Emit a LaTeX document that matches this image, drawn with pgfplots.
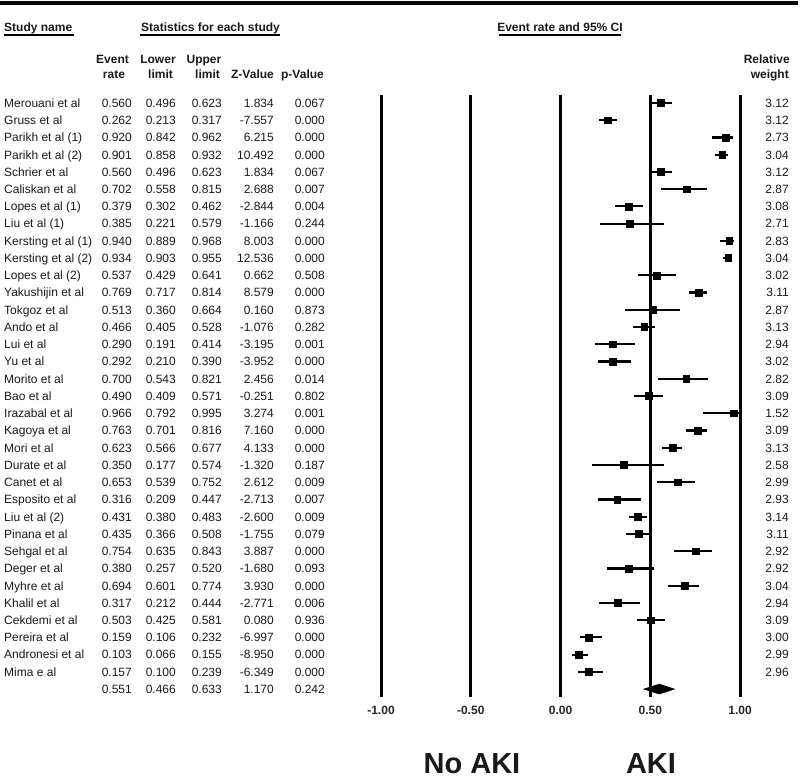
\documentclass[border=0pt]{standalone}
\usepackage{pgfplots}
\usepackage{pgfplotstable}
\pgfplotsset{compat=1.18}
\usepackage{fontspec}
\setmainfont{Liberation Sans}

\pgfplotstableread[col sep=comma]{
name,er,lo,hi,z,p,w
Merouani et al,0.560,0.496,0.623,1.834,0.067,3.12
Gruss et al,0.262,0.213,0.317,-7.557,0.000,3.12
Parikh et al (1),0.920,0.842,0.962,6.215,0.000,2.73
Parikh et al (2),0.901,0.858,0.932,10.492,0.000,3.04
Schrier et al,0.560,0.496,0.623,1.834,0.067,3.12
Caliskan et al,0.702,0.558,0.815,2.688,0.007,2.87
Lopes et al (1),0.379,0.302,0.462,-2.844,0.004,3.08
Liu et al (1),0.385,0.221,0.579,-1.166,0.244,2.71
Kersting et al (1),0.940,0.889,0.968,8.003,0.000,2.83
Kersting et al (2),0.934,0.903,0.955,12.536,0.000,3.04
Lopes et al (2),0.537,0.429,0.641,0.662,0.508,3.02
Yakushijin et al,0.769,0.717,0.814,8.579,0.000,3.11
Tokgoz et al,0.513,0.360,0.664,0.160,0.873,2.87
Ando et al,0.466,0.405,0.528,-1.076,0.282,3.13
Lui et al,0.290,0.191,0.414,-3.195,0.001,2.94
Yu et al,0.292,0.210,0.390,-3.952,0.000,3.02
Morito et al,0.700,0.543,0.821,2.456,0.014,2.82
Bao et al,0.490,0.409,0.571,-0.251,0.802,3.09
Irazabal et al,0.966,0.792,0.995,3.274,0.001,1.52
Kagoya et al,0.763,0.701,0.816,7.160,0.000,3.09
Mori et al,0.623,0.566,0.677,4.133,0.000,3.13
Durate et al,0.350,0.177,0.574,-1.320,0.187,2.58
Canet et al,0.653,0.539,0.752,2.612,0.009,2.99
Esposito et al,0.316,0.209,0.447,-2.713,0.007,2.93
Liu et al (2),0.431,0.380,0.483,-2.600,0.009,3.14
Pinana et al,0.435,0.366,0.508,-1.755,0.079,3.11
Sehgal et al,0.754,0.635,0.843,3.887,0.000,2.92
Deger et al,0.380,0.257,0.520,-1.680,0.093,2.92
Myhre et al,0.694,0.601,0.774,3.930,0.000,3.04
Khalil et al,0.317,0.212,0.444,-2.771,0.006,2.94
Cekdemi et al,0.503,0.425,0.581,0.080,0.936,3.09
Pereira et al,0.159,0.106,0.232,-6.997,0.000,3.00
Andronesi et al,0.103,0.066,0.155,-8.950,0.000,2.99
Mima e al,0.157,0.100,0.239,-6.349,0.000,2.96
}\studies

\pgfplotstableread{
er lo hi z p
0.551 0.466 0.633 1.170 0.242
}\summary

\begin{document}
\begin{tikzpicture}
\fontsize{12}{14}\selectfont
\path[use as bounding box] (0,0) rectangle (800pt,-779pt);

\begin{axis}[
  at={(381pt,-95pt)}, anchor=north west,
  scale only axis, width=359pt, height=602pt,
  xmin=-1, xmax=1, ymin=0.54, ymax=35.46, y dir=reverse,
  axis line style={draw=none},
  xtick={-1,-0.5,0,0.5,1},
  xticklabels={{-1.00},{-0.50},{0.00},{0.50},{1.00}},
  xticklabel style={font=\bfseries\fontsize{12}{14}\selectfont, yshift=-5pt, text=black!85},
  ytick=\empty, major tick length=0pt,
  xmajorgrids, grid style={black, line width=3pt},
  clip=false,
]
\addplot[only marks, mark=square*, mark size=3.4pt, black,
  error bars/.cd, x dir=both, x explicit, error mark=none,
  error bar style={line width=2.2pt, black}]
  table[x=er, y expr=\coordindex+1,
        x error minus expr=\thisrow{er}-\thisrow{lo},
        x error plus expr=\thisrow{hi}-\thisrow{er}] {\studies};
\addplot[fill=black, draw=black, line width=0.8pt]
  table[x=lo, y expr=35] {\summary} -- (axis cs:0.551,34.72) -- (axis cs:0.633,35) -- (axis cs:0.551,35.28) -- cycle;
\end{axis}

\begin{scope}[x=1pt, y=-1pt, text=black!90]
\draw[line width=4pt] (0,3) -- (798,3);
% headers
\node[anchor=base west, inner sep=0, font=\bfseries] at (4,31.5) {Study name};
\draw[line width=1.2pt] (4,35) -- (74,35);
\node[anchor=base, inner sep=0, font=\bfseries] at (210.5,31.5) {Statistics for each study};
\draw[line width=1.2pt] (140,35) -- (280,35);
\node[anchor=base, inner sep=0, font=\bfseries] at (560,31.5) {Event rate and 95\% CI};
\draw[line width=1.2pt] (499,35) -- (621,35);

\node[anchor=base, inner sep=0, font=\bfseries] at (112.5,63) {Event};
\node[anchor=base, inner sep=0, font=\bfseries] at (114,78.5) {rate};
\node[anchor=base, inner sep=0, font=\bfseries] at (158,63) {Lower};
\node[anchor=base, inner sep=0, font=\bfseries] at (160.5,78.5) {limit};
\node[anchor=base, inner sep=0, font=\bfseries] at (204,63) {Upper};
\node[anchor=base, inner sep=0, font=\bfseries] at (207.5,78.5) {limit};
\node[anchor=base, inner sep=0, font=\bfseries] at (252.5,78.5) {Z-Value};
\node[anchor=base, inner sep=0, font=\bfseries] at (302.5,78.5) {p-Value};
\node[anchor=base east, inner sep=0, font=\bfseries] at (790,63) {Relative};
\node[anchor=base east, inner sep=0, font=\bfseries] at (789,78.5) {weight};

% table rows
\foreach \i in {0,...,33} {
  \pgfmathsetmacro\yy{103+\i*17.24+4.3}
  \pgfplotstablegetelem{\i}{name}\of\studies \edef\cname{\pgfplotsretval}
  \node[anchor=base west, inner sep=0] at (4,\yy) {\cname};
  \pgfplotstablegetelem{\i}{er}\of\studies \edef\cer{\pgfplotsretval}
  \node[anchor=base east, inner sep=0] at (132,\yy) {\cer};
  \pgfplotstablegetelem{\i}{lo}\of\studies \edef\clo{\pgfplotsretval}
  \node[anchor=base east, inner sep=0] at (176,\yy) {\clo};
  \pgfplotstablegetelem{\i}{hi}\of\studies \edef\chi{\pgfplotsretval}
  \node[anchor=base east, inner sep=0] at (222,\yy) {\chi};
  \pgfplotstablegetelem{\i}{z}\of\studies \edef\cz{\pgfplotsretval}
  \node[anchor=base east, inner sep=0] at (274,\yy) {\cz};
  \pgfplotstablegetelem{\i}{p}\of\studies \edef\cp{\pgfplotsretval}
  \node[anchor=base east, inner sep=0] at (325,\yy) {\cp};
  \pgfplotstablegetelem{\i}{w}\of\studies \edef\cw{\pgfplotsretval}
  \node[anchor=base east, inner sep=0] at (789,\yy) {\cw};
}
% summary row
\pgfmathsetmacro\yy{103+34*17.24+4.3}
\node[anchor=base east, inner sep=0] at (132,\yy) {0.551};
\node[anchor=base east, inner sep=0] at (176,\yy) {0.466};
\node[anchor=base east, inner sep=0] at (222,\yy) {0.633};
\node[anchor=base east, inner sep=0] at (274,\yy) {1.170};
\node[anchor=base east, inner sep=0] at (325,\yy) {0.242};

% bottom labels
\node[anchor=base, inner sep=0, font=\bfseries\fontsize{29}{33}\selectfont] at (472,773) {No AKI};
\node[anchor=base, inner sep=0, font=\bfseries\fontsize{29}{33}\selectfont] at (651,773) {AKI};
\end{scope}
\end{tikzpicture}
\end{document}
